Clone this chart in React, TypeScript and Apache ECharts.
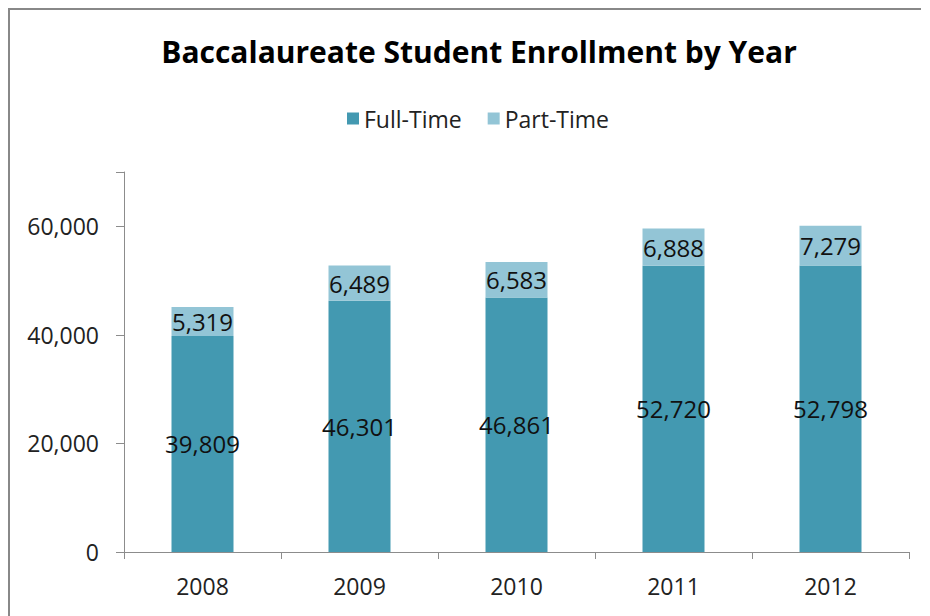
import React, { useEffect, useRef } from "react";
import * as echarts from "echarts";

const years = ["2008", "2009", "2010", "2011", "2012"];
const fullTime = [39809, 46301, 46861, 52720, 52798];
const partTime = [5319, 6489, 6583, 6888, 7279];
const yTicks = { min: 0, max: 70000, interval: 20000 };

const fmt = (v: number) => v.toLocaleString("en-US");
const FONT = "'Open Sans', sans-serif";

export default function App() {
  const ref = useRef<HTMLDivElement>(null);
  useEffect(() => {
    if (!ref.current) return;
    const chart = echarts.init(ref.current, undefined, { renderer: "svg" });
    chart.setOption({
      animation: false,
      backgroundColor: "#ffffff",
      textStyle: { fontFamily: FONT },
      title: {
        text: "Baccalaureate Student Enrollment by Year",
        left: 474,
        textAlign: "center",
        top: 31,
        textStyle: { fontFamily: FONT, fontWeight: "bold", fontSize: 30, color: "#000" },
      },
      legend: {
        left: 342,
        top: 102,
        icon: "rect",
        itemWidth: 12,
        itemHeight: 12,
        itemGap: 26,
        textStyle: { fontFamily: FONT, fontSize: 23, color: "#222" },
        data: ["Full-Time", "Part-Time"],
      },
      graphic: [
        {
          type: "polyline",
          shape: { points: [[9, 640], [9, 9], [921, 9]] },
          style: { stroke: "#888888", lineWidth: 2, fill: "none" },
          silent: true,
        },
      ],
      grid: { left: 124, right: 21, top: 172, bottom: 64, containLabel: false },
      xAxis: {
        type: "category",
        data: years,
        axisLine: { lineStyle: { color: "#8c8c8c", width: 1 } },
        axisTick: { show: true, length: 7, alignWithLabel: false, lineStyle: { color: "#8c8c8c" } },
        axisLabel: { margin: 22, fontFamily: FONT, fontSize: 23, color: "#222" },
      },
      yAxis: {
        type: "value",
        min: yTicks.min,
        max: yTicks.max,
        interval: yTicks.interval,
        splitLine: { show: false },
        axisLine: { show: true, lineStyle: { color: "#8c8c8c", width: 1 } },
        axisTick: { show: true, length: 8, lineStyle: { color: "#8c8c8c" } },
        axisLabel: {
          margin: 25,
          fontFamily: FONT,
          fontSize: 23,
          color: "#222",
          formatter: (v: number) => (v === 70000 ? "" : fmt(v)),
        },
      },
      series: [
        {
          name: "Full-Time",
          type: "bar",
          stack: "total",
          data: fullTime,
          barWidth: 62,
          itemStyle: { color: "#4399B1" },
          label: {
            show: true,
            position: "inside",
            fontFamily: FONT,
            fontSize: 24,
            color: "#111",
            formatter: (p: any) => fmt(p.value),
          },
        },
        {
          name: "Part-Time",
          type: "bar",
          stack: "total",
          data: partTime,
          barWidth: 62,
          itemStyle: { color: "#93C5D6" },
          label: {
            show: true,
            position: "inside",
            fontFamily: FONT,
            fontSize: 24,
            color: "#111",
            formatter: (p: any) => fmt(p.value),
          },
        },
      ],
    });
    return () => chart.dispose();
  }, []);
  return <div ref={ref} style={{ width: 930, height: 616, position: "absolute", left: 0, top: 0 }} />;
}
